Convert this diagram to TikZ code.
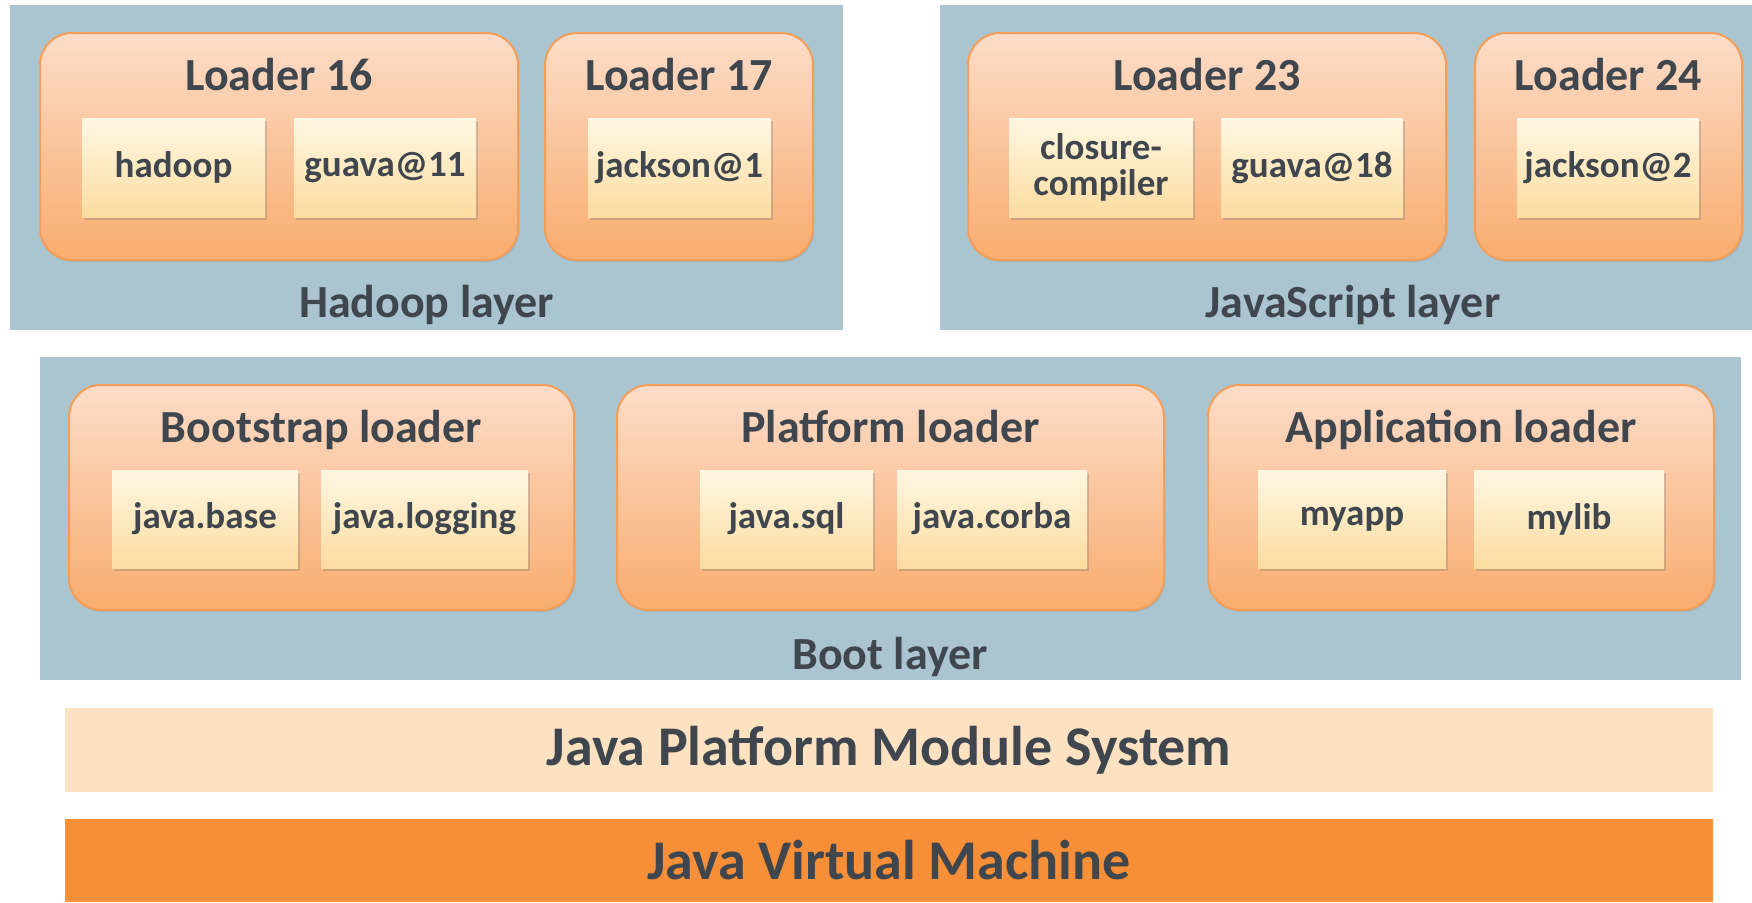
\documentclass[tikz,border=0pt]{standalone}
\usepackage{fontspec}
\setmainfont{Carlito}
\usetikzlibrary{shadows}

\definecolor{layerblue}{RGB}{170,197,207}
\definecolor{loadertop}{RGB}{252,221,201}
\definecolor{loaderbot}{RGB}{249,172,110}
\definecolor{loaderline}{RGB}{244,158,88}
\definecolor{modtop}{RGB}{255,247,226}
\definecolor{modbot}{RGB}{252,220,160}
\definecolor{jpms}{RGB}{253,226,194}
\definecolor{jvm}{RGB}{246,143,55}
\definecolor{ink}{RGB}{64,70,78}

\tikzset{boxsize/.style 2 args={minimum width=#1*0.5pt, minimum height=#2*0.5pt}}

\begin{document}
\begin{tikzpicture}[x=0.5pt, y=-0.5pt]
\tikzstyle{every node}=[inner sep=0pt, outer sep=0pt, text=ink, font=\bfseries]
\tikzstyle{layer}=[fill=layerblue]
\tikzstyle{loader}=[rounded corners=16pt, draw=loaderline, line width=1pt,
  top color=loadertop, bottom color=loaderbot,
  drop shadow={shadow xshift=0.6pt, shadow yshift=-1pt, opacity=.25}]
\tikzstyle{module}=[top color=modtop, bottom color=modbot, align=center,
  font=\fontsize{18.5}{18}\bfseries,
  drop shadow={shadow xshift=1.2pt, shadow yshift=-1.5pt, opacity=.35}]
\tikzstyle{title}=[anchor=base, font=\fontsize{23}{27}\bfseries]
\tikzstyle{bar}=[boxsize={1648}{84}, font=\fontsize{28}{32}\bfseries]
\useasboundingbox (0,0) rectangle (1752,902);

% layers
\node (hadooplayer) [layer, boxsize={833}{325}] at (426.5,167.5) {};
\node (jslayer) [layer, boxsize={812}{325}] at (1346,167.5) {};
\node (bootlayer) [layer, boxsize={1701}{323}] at (890.5,518.5) {};
\node (hadooplabel) [title] at (426.5,317) {Hadoop layer};
\node (jslabel) [title] at (1353,317) {JavaScript layer};
\node (bootlabel) [title] at (890,669) {Boot layer};

% loaders
\node (l16) [loader, boxsize={478}{227}] at (279,146.5) {};
\node (l17) [loader, boxsize={268}{227}] at (679,146.5) {};
\node (l23) [loader, boxsize={478}{227}] at (1207,146.5) {};
\node (l24) [loader, boxsize={267}{227}] at (1608.5,146.5) {};
\node (lboot) [loader, boxsize={505}{225}] at (321.5,497.5) {};
\node (lplat) [loader, boxsize={547}{225}] at (890.5,497.5) {};
\node (lapp) [loader, boxsize={506}{225}] at (1461,497.5) {};

\node (t16) [title] at (279,90) {Loader 16};
\node (t17) [title] at (679,90) {Loader 17};
\node (t23) [title] at (1207,90) {Loader 23};
\node (t24) [title] at (1608.5,90) {Loader 24};
\node (tboot) [title] at (321.5,442) {Bootstrap loader};
\node (tplat) [title] at (890.5,442) {Platform loader};
\node (tapp) [title] at (1461,442) {Application loader};

% modules
\node (hadoop) [module, boxsize={183}{99}] at (173.5,167.5) {hadoop};
\node (guava11) [module, boxsize={182}{99}] at (385,167.5) {guava@11};
\node (jackson1) [module, boxsize={183}{99}] at (679.5,167.5) {jackson@1};
\node (closure) [module, boxsize={184}{99}] at (1101,167.5) {closure-\\compiler};
\node (guava18) [module, boxsize={182}{99}] at (1312,167.5) {guava@18};
\node (jackson2) [module, boxsize={182}{99}] at (1608,167.5) {jackson@2};
\node (jbase) [module, boxsize={186}{98}] at (205,519) {java.base};
\node (jlogging) [module, boxsize={207}{98}] at (424.5,519) {java.logging};
\node (jsql) [module, boxsize={173}{98}] at (786.5,519) {java.sql};
\node (jcorba) [module, boxsize={190}{98}] at (992,519) {java.corba};
\node (myapp) [module, boxsize={188}{98}] at (1352,519) {myapp};
\node (mylib) [module, boxsize={190}{98}] at (1569,519) {mylib};

% platform bars
\node (jpmsbar) [bar, fill=jpms] at (889,750) {Java Platform Module System};
\node (jvmbar) [bar, fill=jvm, boxsize={1648}{83}] at (889,860.5) {Java Virtual Machine};
\end{tikzpicture}
\end{document}
